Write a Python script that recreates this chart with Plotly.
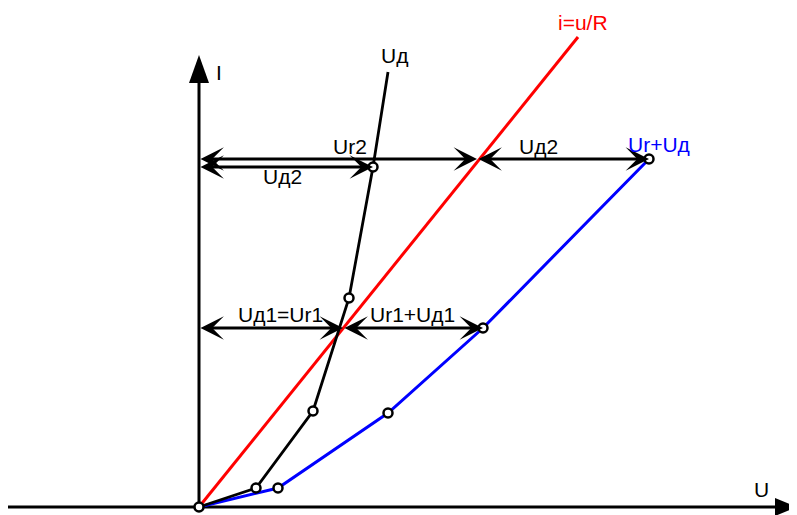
import plotly.graph_objects as go

# Data in diagram units (u to the right, i upward), origin at the axes crossing
diode_u = [0, 57, 114, 150, 174, 189]
diode_i = [0, 19, 96, 209, 340, 435]
diode_marked = [1, 2, 3, 4]

load_u = [0, 379]
load_i = [0, 470]

sum_u = [0, 79, 189, 284, 450]
sum_i = [0, 19, 94, 179, 348]

# dimension arrows: (u_start, u_end, i_level)
dims = [(0, 278, 348), (278, 450, 348), (0, 174, 340), (0, 144, 179), (144, 284, 179)]

labels = [
    ("I", 20, 435, "black"),
    ("Uд", 195, 452, "black"),
    ("i=u/R", 384, 485, "red"),
    ("Ur+Uд", 460, 363, "blue"),
    ("U", 562, 18, "black"),
    ("Ur2", 151, 361, "black"),
    ("Uд2", 339, 361, "black"),
    ("Uд2", 83, 331, "black"),
    ("Uд1=Ur1", 81, 193, "black"),
    ("Ur1+Uд1", 213, 193, "black"),
]

x_axis = (-191, 598)
y_axis = (0, 452)

fig = go.Figure()

# axes lines
fig.add_trace(go.Scatter(x=[x_axis[0], x_axis[1] - 10], y=[0, 0], mode="lines",
                         line=dict(color="black", width=3), hoverinfo="skip"))
fig.add_trace(go.Scatter(x=[0, 0], y=[y_axis[0], y_axis[1] - 10], mode="lines",
                         line=dict(color="black", width=3), hoverinfo="skip"))

# axis arrowheads
xt = x_axis[1]
fig.add_shape(type="path", path=f"M {xt} 0 L {xt-22} 9 L {xt-22} -9 Z",
              fillcolor="black", line=dict(width=0))
yt = y_axis[1]
fig.add_shape(type="path", path=f"M 0 {yt} L -10 {yt-28} L 10 {yt-28} Z",
              fillcolor="black", line=dict(width=0))

# load line
fig.add_trace(go.Scatter(x=load_u, y=load_i, mode="lines",
                         line=dict(color="red", width=3), hoverinfo="skip"))
# sum curve
fig.add_trace(go.Scatter(x=sum_u, y=sum_i, mode="lines",
                         line=dict(color="blue", width=3), hoverinfo="skip"))
# diode curve
fig.add_trace(go.Scatter(x=diode_u, y=diode_i, mode="lines",
                         line=dict(color="black", width=2.8), hoverinfo="skip"))

# dimension arrows
for a, b, lvl in dims:
    fig.add_annotation(x=b, y=lvl, ax=a, ay=lvl, xref="x", yref="y", axref="x", ayref="y",
                       text="", showarrow=True, arrowhead=3, startarrowhead=3,
                       arrowside="end+start", arrowwidth=3, arrowsize=1.3, startarrowsize=1.3,
                       arrowcolor="black")

# markers
fig.add_trace(go.Scatter(x=[diode_u[k] for k in diode_marked] + sum_u[1:] + [0],
                         y=[diode_i[k] for k in diode_marked] + sum_i[1:] + [0],
                         mode="markers",
                         marker=dict(size=9, color="white", line=dict(color="black", width=2.5)),
                         hoverinfo="skip"))

for t, u, i, c in labels:
    fig.add_annotation(x=u, y=i, text=t, showarrow=False, xref="x", yref="y",
                       font=dict(family="Liberation Sans, Arial", size=21, color=c))

fig.update_layout(width=797, height=515, margin=dict(l=0, r=0, t=0, b=0),
                  plot_bgcolor="white", paper_bgcolor="white", showlegend=False,
                  xaxis=dict(range=[-191, 606], visible=False, fixedrange=True),
                  yaxis=dict(range=[-16, 499], visible=False, fixedrange=True))

fig.write_html("out.html")
